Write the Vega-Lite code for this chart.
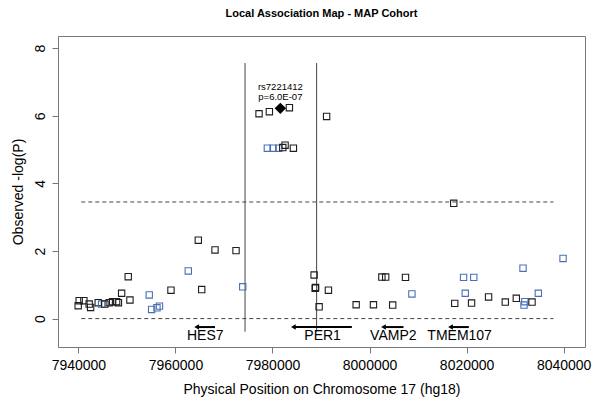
{
  "$schema": "https://vega.github.io/schema/vega-lite/v6.json",
  "width": 527,
  "height": 311,
  "autosize": {"type": "none"},
  "padding": {"left": 58, "top": 36, "right": 15, "bottom": 58},
  "title": {"text": "Local Association Map - MAP Cohort", "fontSize": 11, "fontWeight": "bold", "font": "Liberation Sans", "color": "#000", "anchor": "middle", "offset": 17},
  "config": {
    "view": {"stroke": "#777", "strokeWidth": 1},
    "axis": {"domain": false, "grid": false, "tickColor": "#777", "tickSize": 6, "labelFont": "Liberation Sans", "titleFont": "Liberation Sans", "labelFontSize": 14, "titleFontSize": 14, "labelColor": "#000", "titleColor": "#000", "titleFontWeight": "normal"}
  },
  "datasets": {
    "snps": [
      {"pos": 7939960, "logp": 0.38, "grp": "k"},
      {"pos": 7940165, "logp": 0.53, "grp": "k"},
      {"pos": 7941134, "logp": 0.53, "grp": "k"},
      {"pos": 7942228, "logp": 0.43, "grp": "k"},
      {"pos": 7942517, "logp": 0.33, "grp": "k"},
      {"pos": 7944084, "logp": 0.47, "grp": "k"},
      {"pos": 7944786, "logp": 0.43, "grp": "b"},
      {"pos": 7945466, "logp": 0.43, "grp": "k"},
      {"pos": 7946353, "logp": 0.47, "grp": "k"},
      {"pos": 7947054, "logp": 0.5, "grp": "k"},
      {"pos": 7947880, "logp": 0.5, "grp": "k"},
      {"pos": 7948251, "logp": 0.47, "grp": "k"},
      {"pos": 7948911, "logp": 0.75, "grp": "k"},
      {"pos": 7950272, "logp": 1.24, "grp": "k"},
      {"pos": 7950623, "logp": 0.55, "grp": "k"},
      {"pos": 7954604, "logp": 0.7, "grp": "b"},
      {"pos": 7955099, "logp": 0.27, "grp": "b"},
      {"pos": 7956193, "logp": 0.32, "grp": "b"},
      {"pos": 7956708, "logp": 0.37, "grp": "b"},
      {"pos": 7959080, "logp": 0.84, "grp": "k"},
      {"pos": 7962649, "logp": 1.41, "grp": "b"},
      {"pos": 7964711, "logp": 2.32, "grp": "k"},
      {"pos": 7965413, "logp": 0.86, "grp": "k"},
      {"pos": 7968156, "logp": 2.03, "grp": "k"},
      {"pos": 7972488, "logp": 2.01, "grp": "k"},
      {"pos": 7973870, "logp": 0.94, "grp": "b"},
      {"pos": 7977228, "logp": 6.06, "grp": "k"},
      {"pos": 7979356, "logp": 6.12, "grp": "k"},
      {"pos": 7983483, "logp": 6.24, "grp": "k"},
      {"pos": 7991155, "logp": 5.98, "grp": "k"},
      {"pos": 7978944, "logp": 5.04, "grp": "b"},
      {"pos": 7980120, "logp": 5.04, "grp": "b"},
      {"pos": 7981295, "logp": 5.04, "grp": "b"},
      {"pos": 7982120, "logp": 5.06, "grp": "k"},
      {"pos": 7982595, "logp": 5.13, "grp": "k"},
      {"pos": 7984307, "logp": 5.04, "grp": "k"},
      {"pos": 7988577, "logp": 1.29, "grp": "k"},
      {"pos": 7988886, "logp": 0.92, "grp": "k"},
      {"pos": 7988800, "logp": 0.9, "grp": "k"},
      {"pos": 7989608, "logp": 0.35, "grp": "k"},
      {"pos": 7991526, "logp": 0.84, "grp": "k"},
      {"pos": 7997240, "logp": 0.41, "grp": "k"},
      {"pos": 8000808, "logp": 0.41, "grp": "k"},
      {"pos": 8002541, "logp": 1.23, "grp": "k"},
      {"pos": 8003325, "logp": 1.23, "grp": "k"},
      {"pos": 8004769, "logp": 0.4, "grp": "k"},
      {"pos": 8007409, "logp": 1.22, "grp": "k"},
      {"pos": 8008730, "logp": 0.73, "grp": "b"},
      {"pos": 8017352, "logp": 3.41, "grp": "k"},
      {"pos": 8017558, "logp": 0.45, "grp": "k"},
      {"pos": 8019373, "logp": 1.22, "grp": "b"},
      {"pos": 8021477, "logp": 1.22, "grp": "b"},
      {"pos": 8019724, "logp": 0.75, "grp": "b"},
      {"pos": 8021024, "logp": 0.46, "grp": "k"},
      {"pos": 8024530, "logp": 0.64, "grp": "k"},
      {"pos": 8027975, "logp": 0.49, "grp": "k"},
      {"pos": 8030244, "logp": 0.6, "grp": "k"},
      {"pos": 8031626, "logp": 1.49, "grp": "b"},
      {"pos": 8031997, "logp": 0.5, "grp": "b"},
      {"pos": 8031832, "logp": 0.4, "grp": "b"},
      {"pos": 8033482, "logp": 0.49, "grp": "k"},
      {"pos": 8034782, "logp": 0.75, "grp": "b"},
      {"pos": 8039878, "logp": 1.78, "grp": "b"}
    ],
    "top": [{"pos": 7981621, "logp": 6.22}],
    "annot": [
      {"pos": 7981621, "logp": 6.86, "label": "rs7221412"},
      {"pos": 7981621, "logp": 6.56, "label": "p=6.0E-07"}
    ],
    "hlines": [
      {"pos": 7940600, "pos2": 8037900, "logp": 0},
      {"pos": 7940600, "pos2": 8037900, "logp": 3.45}
    ],
    "vlines": [
      {"pos": 7974343, "logp": -0.39, "logp2": 7.56},
      {"pos": 7989093, "logp": -0.39, "logp2": 7.56}
    ],
    "genes": [
      {"gene": "HES7", "pos": 7964376, "pos2": 7968156, "mid": 7966150, "logp": -0.25, "lab": -0.52},
      {"gene": "PER1", "pos": 7984307, "pos2": 7996353, "mid": 7990330, "logp": -0.25, "lab": -0.52},
      {"gene": "VAMP2", "pos": 8002870, "pos2": 8006996, "mid": 8004900, "logp": -0.25, "lab": -0.52},
      {"gene": "TMEM107", "pos": 8016687, "pos2": 8020462, "mid": 8018560, "logp": -0.25, "lab": -0.52}
    ]
  },
  "encoding": {
    "x": {"field": "pos", "type": "quantitative", "scale": {"domain": [7935800, 8044400], "nice": false, "zero": false},
      "axis": {"values": [7940000, 7960000, 7980000, 8000000, 8020000, 8040000], "format": "d", "title": "Physical Position on Chromosome 17 (hg18)", "labelPadding": 5, "titlePadding": 10, "labelFlush": false, "labelOverlap": false}},
    "y": {"field": "logp", "type": "quantitative", "scale": {"domain": [-0.84, 8.36], "nice": false, "zero": false},
      "axis": {"values": [0, 2, 4, 6, 8], "title": "Observed -log(P)", "labelAngle": -90, "labelAlign": "center", "labelBaseline": "bottom", "labelPadding": 5, "titlePadding": 8}}
  },
  "layer": [
    {
      "data": {"name": "hlines"},
      "mark": {"type": "rule", "strokeDash": [4, 3], "color": "#444", "strokeWidth": 1},
      "encoding": {"x2": {"field": "pos2"}}
    },
    {
      "data": {"name": "vlines"},
      "mark": {"type": "rule", "color": "#444", "strokeWidth": 1},
      "encoding": {"y2": {"field": "logp2"}}
    },
    {
      "data": {"name": "snps"},
      "mark": {"type": "point", "shape": "square", "filled": false, "size": 40, "strokeWidth": 1.1, "opacity": 1},
      "encoding": {"color": {"field": "grp", "type": "nominal", "scale": {"domain": ["k", "b"], "range": ["#1e1e1e", "#4a70b8"]}, "legend": null}}
    },
    {
      "data": {"name": "top"},
      "mark": {"type": "point", "shape": "diamond", "filled": true, "size": 130, "color": "#000", "opacity": 1}
    },
    {
      "data": {"name": "annot"},
      "mark": {"type": "text", "font": "Liberation Sans", "fontSize": 9.5, "color": "#000", "baseline": "middle", "align": "center"},
      "encoding": {"text": {"field": "label"}}
    },
    {
      "data": {"name": "genes"},
      "mark": {"type": "rule", "color": "#000", "strokeWidth": 2},
      "encoding": {"x2": {"field": "pos2"}}
    },
    {
      "data": {"name": "genes"},
      "mark": {"type": "point", "shape": "triangle-left", "filled": true, "size": 30, "color": "#000", "opacity": 1}
    },
    {
      "data": {"name": "genes"},
      "mark": {"type": "text", "font": "Liberation Sans", "fontSize": 14, "color": "#000", "baseline": "middle", "align": "center"},
      "encoding": {"x": {"field": "mid", "type": "quantitative"}, "y": {"field": "lab", "type": "quantitative"}, "text": {"field": "gene"}}
    }
  ]
}
